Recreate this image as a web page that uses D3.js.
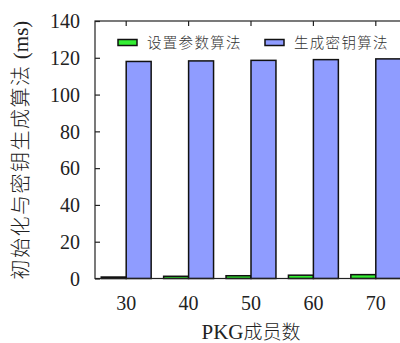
<!DOCTYPE html>
<html><head><meta charset="utf-8">
<script src="https://cdn.jsdelivr.net/npm/d3@7/dist/d3.min.js"></script>
<style>
body{margin:0;background:#fff;}
svg{display:block;}
</style></head>
<body>
<svg id="c" width="400" height="343"></svg>
<script>
const categories = ["30","40","50","60","70"];
const seriesNames = ["设置参数算法","生成密钥算法"];
const setupValues = [0.8, 1.2, 1.5, 1.8, 2.1];
const keygenValues = [118.0, 118.3, 118.6, 119.0, 119.4];
const yTicks = [0,20,40,60,80,100,120,140];
const colors = ["#33ee33","#8f9cff"];

(function(){
const SERIF = "'Liberation Serif','DejaVu Serif',serif";
const CJK = "'Noto Sans CJK SC','Noto Sans',sans-serif";
const svg = d3.select("#c");
const mL = 95, mT = 21, mB = 278.5, mR = 407;
const x = d3.scaleBand().domain(categories).range([mL, mR]).paddingInner(0.2).paddingOuter(0.1);
const xs = d3.scaleBand().domain(seriesNames).range([0, x.bandwidth()]);
const y = d3.scaleLinear().domain([0,140]).range([mB, mT]);
const color = d3.scaleOrdinal().domain(seriesNames).range(colors);

const data = categories.map((c,i)=>({cat:c, vals:[{s:seriesNames[0], v:setupValues[i]},{s:seriesNames[1], v:keygenValues[i]}]}));

const g = svg.append("g");
g.selectAll("g.cat").data(data).join("g").attr("transform", d=>`translate(${x(d.cat)},0)`)
  .selectAll("rect").data(d=>d.vals).join("rect")
  .attr("x", d=>xs(d.s)).attr("width", xs.bandwidth())
  .attr("y", d=>y(d.v)).attr("height", d=>y(0)-y(d.v))
  .attr("fill", d=>color(d.s)).attr("stroke","#111").attr("stroke-width",1.5);

svg.append("rect").attr("x",mL).attr("y",mT).attr("width",mR-mL).attr("height",mB-mT)
  .attr("fill","none").attr("stroke","#222").attr("stroke-width",1.2);

const yAxis = d3.axisLeft(y).tickValues(yTicks).tickSize(-5).tickPadding(15);
const ya = svg.append("g").attr("transform",`translate(${mL},0)`).call(yAxis);
ya.select(".domain").remove();
ya.selectAll(".tick line").attr("stroke","#222").attr("stroke-width",1.2);
ya.selectAll(".tick text").style("font-family",SERIF).style("font-size","20px").attr("fill","#222").attr("x",-15).attr("dy","0.34em");

const xAxisTop = d3.axisTop(x).tickSize(-5).tickFormat("");
const xt = svg.append("g").attr("transform",`translate(0,${mT})`).call(xAxisTop);
xt.select(".domain").remove();
xt.selectAll(".tick line").attr("stroke","#222").attr("stroke-width",1.2);

const xAxis = d3.axisBottom(x).tickSize(0).tickPadding(17);
const xb = svg.append("g").attr("transform",`translate(0,${mB})`).call(xAxis);
xb.select(".domain").remove();
xb.selectAll(".tick text").style("font-family",SERIF).style("font-size","20px").attr("fill","#222");

const xt2 = svg.append("text").attr("x",251).attr("y",339).attr("text-anchor","middle").attr("fill","#222");
xt2.append("tspan").style("font-family",SERIF).style("font-size","21px").text("PKG");
xt2.append("tspan").style("font-family",CJK).style("font-size","19px").style("font-weight",300).text("成员数");

const yt = svg.append("text").attr("transform","translate(28,150) rotate(-90)").attr("text-anchor","middle").attr("fill","#222");
yt.append("tspan").style("font-family",CJK).style("font-size","20px").style("font-weight",300).attr("letter-spacing",1.5).text("初始化与密钥生成算法");
yt.append("tspan").style("font-family",SERIF).style("font-size","21px").text(" (ms)");

const legX = [118, 265];
const lg = svg.append("g");
seriesNames.forEach((s,i)=>{
  lg.append("rect").attr("x",legX[i]).attr("y",39.5).attr("width",19).attr("height",6)
    .attr("fill",color(s)).attr("stroke","#111").attr("stroke-width",1.5);
  lg.append("text").attr("x",legX[i]+29).attr("y",48).style("font-family",CJK).style("font-size","14.5px").style("font-weight",300)
    .attr("letter-spacing",1.3).attr("fill","#333").text(s);
});
})();
</script>
</body></html>
